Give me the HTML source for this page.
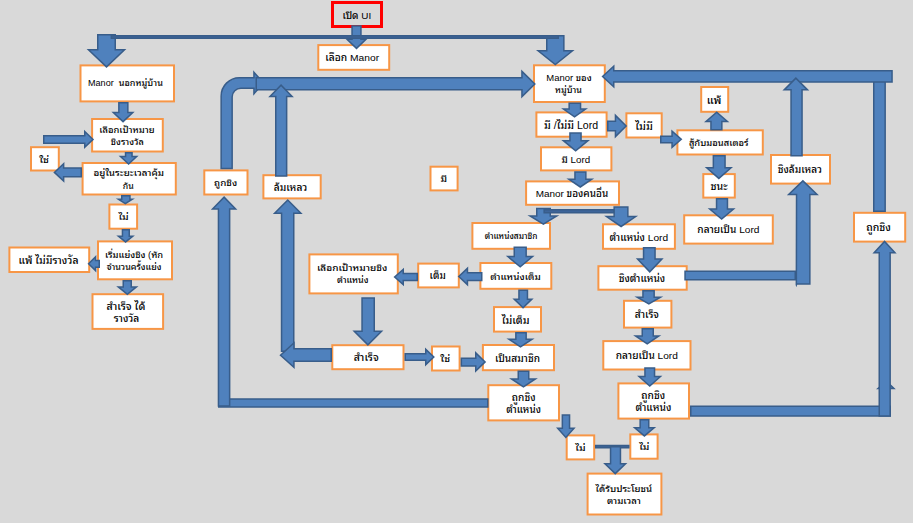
<!DOCTYPE html>
<html lang="th">
<head>
<meta charset="utf-8">
<title>Manor flow</title>
<style>
html,body{margin:0;padding:0;background:#d9d9d9;}
body{width:913px;height:523px;overflow:hidden;}
svg{display:block;}
text{font-family:"Liberation Sans", "Noto Sans Thai Looped", "Loma", "Noto Sans Thai", "Tahoma", sans-serif;fill:#000;font-weight:500;}
</style>
</head>
<body>
<svg width="913" height="523" viewBox="0 0 913 523">
<rect x="0" y="0" width="913" height="523" fill="#d9d9d9"/>
<rect x="332.5" y="2.5" width="49.0" height="24.0" fill="none" stroke="#ff0000" stroke-width="3"/>
<text transform="translate(356.80,18.91) scale(1.0450,1)" font-size="9.48" text-anchor="middle" xml:space="preserve">เปิด UI</text>
<rect x="318.3" y="45.1" width="70.9" height="24.7" fill="#ffffff" stroke="#f79646" stroke-width="2"/>
<text transform="translate(352.15,61.19) scale(1.0450,1)" font-size="9.82" text-anchor="middle" xml:space="preserve">เลือก Manor</text>
<rect x="80.5" y="65.4" width="93.5" height="36.0" fill="#ffffff" stroke="#f79646" stroke-width="2"/>
<text transform="translate(125.45,86.22) scale(1.0450,1)" font-size="8.67" text-anchor="middle" xml:space="preserve">Manor  นอกหมู่บ้าน</text>
<rect x="92.1" y="119.0" width="70.7" height="32.5" fill="#ffffff" stroke="#f79646" stroke-width="2"/>
<text transform="translate(126.95,132.80) scale(1.0587,1)" font-size="8.89" text-anchor="middle" xml:space="preserve">เลือกเป้าหมาย</text>
<text transform="translate(127.35,145.10) scale(1.0313,1)" font-size="8.89" text-anchor="middle" xml:space="preserve">ชิงรางวัล</text>
<rect x="31.0" y="147.2" width="27.8" height="23.3" fill="#ffffff" stroke="#f79646" stroke-width="2"/>
<text transform="translate(44.10,162.59) scale(1.1500,1)" font-size="9.0" text-anchor="middle" xml:space="preserve">ใช่</text>
<rect x="82.6" y="163.0" width="93.2" height="31.5" fill="#ffffff" stroke="#f79646" stroke-width="2"/>
<text transform="translate(128.70,176.29) scale(1.1038,1)" font-size="8.87" text-anchor="middle" xml:space="preserve">อยู่ในระยะเวลาคุ้ม</text>
<text transform="translate(128.20,188.59) scale(0.9862,1)" font-size="8.87" text-anchor="middle" xml:space="preserve">กัน</text>
<rect x="109.4" y="204.5" width="27.7" height="24.2" fill="#ffffff" stroke="#f79646" stroke-width="2"/>
<text transform="translate(123.55,220.34) scale(1.1500,1)" font-size="9.0" text-anchor="middle" xml:space="preserve">ไม่</text>
<rect x="98.0" y="241.4" width="74.0" height="37.9" fill="#ffffff" stroke="#f79646" stroke-width="2"/>
<text transform="translate(134.10,257.84) scale(1.0700,1)" font-size="8.73" text-anchor="middle" xml:space="preserve">เริ่มแย่งชิง (หัก</text>
<text transform="translate(134.00,270.14) scale(1.0200,1)" font-size="8.73" text-anchor="middle" xml:space="preserve">จำนวนครั้งแย่ง</text>
<rect x="9.4" y="247.5" width="79.8" height="24.5" fill="#ffffff" stroke="#f79646" stroke-width="2"/>
<text transform="translate(48.50,263.84) scale(1.0450,1)" font-size="9.98" text-anchor="middle" xml:space="preserve">แพ้ ไม่มีรางวัล</text>
<rect x="92.5" y="294.2" width="70.6" height="34.7" fill="#ffffff" stroke="#f79646" stroke-width="2"/>
<text transform="translate(125.90,309.50) scale(1.0662,1)" font-size="10.01" text-anchor="middle" xml:space="preserve">สำเร็จ ได้</text>
<text transform="translate(126.50,321.80) scale(1.0238,1)" font-size="10.01" text-anchor="middle" xml:space="preserve">รางวัล</text>
<rect x="204.3" y="170.4" width="43.2" height="24.1" fill="#ffffff" stroke="#f79646" stroke-width="2"/>
<text transform="translate(225.60,186.35) scale(1.0450,1)" font-size="9.44" text-anchor="middle" xml:space="preserve">ถูกชิง</text>
<rect x="263.4" y="175.2" width="57.3" height="23.2" fill="#ffffff" stroke="#f79646" stroke-width="2"/>
<text transform="translate(290.45,190.83) scale(1.0450,1)" font-size="9.8" text-anchor="middle" xml:space="preserve">ล้มเหลว</text>
<rect x="309.4" y="254.4" width="88.4" height="39.0" fill="#ffffff" stroke="#f79646" stroke-width="2"/>
<text transform="translate(352.10,270.84) scale(1.0990,1)" font-size="9.15" text-anchor="middle" xml:space="preserve">เลือกเป้าหมายชิง</text>
<text transform="translate(352.80,283.14) scale(0.9910,1)" font-size="9.15" text-anchor="middle" xml:space="preserve">ตำแหน่ง</text>
<rect x="332.3" y="345.2" width="71.2" height="24.0" fill="#ffffff" stroke="#f79646" stroke-width="2"/>
<text transform="translate(366.20,361.35) scale(1.0450,1)" font-size="10.13" text-anchor="middle" xml:space="preserve">สำเร็จ</text>
<rect x="430.5" y="166.7" width="27.1" height="23.7" fill="#ffffff" stroke="#f79646" stroke-width="2"/>
<text transform="translate(443.75,182.29) scale(1.1500,1)" font-size="9.0" text-anchor="middle" xml:space="preserve">มี</text>
<rect x="418.2" y="263.6" width="40.6" height="23.8" fill="#ffffff" stroke="#f79646" stroke-width="2"/>
<text transform="translate(437.70,279.42) scale(1.0450,1)" font-size="9.5" text-anchor="middle" xml:space="preserve">เต็ม</text>
<rect x="432.0" y="346.5" width="27.6" height="24.0" fill="#ffffff" stroke="#f79646" stroke-width="2"/>
<text transform="translate(445.20,362.24) scale(1.1500,1)" font-size="9.0" text-anchor="middle" xml:space="preserve">ใช่</text>
<rect x="534.0" y="65.3" width="70.8" height="36.7" fill="#ffffff" stroke="#f79646" stroke-width="2"/>
<text transform="translate(569.00,80.86) scale(1.0762,1)" font-size="8.78" text-anchor="middle" xml:space="preserve">Manor ของ</text>
<text transform="translate(568.50,93.16) scale(1.0138,1)" font-size="8.78" text-anchor="middle" xml:space="preserve">หมู่บ้าน</text>
<rect x="536.4" y="112.4" width="70.2" height="24.3" fill="#ffffff" stroke="#f79646" stroke-width="2"/>
<text transform="translate(571.10,128.69) scale(1.0450,1)" font-size="10.12" text-anchor="middle" xml:space="preserve">มี /ไม่มี Lord</text>
<rect x="541.0" y="147.3" width="70.4" height="23.1" fill="#ffffff" stroke="#f79646" stroke-width="2"/>
<text transform="translate(575.80,162.72) scale(1.0450,1)" font-size="9.36" text-anchor="middle" xml:space="preserve">มี Lord</text>
<rect x="526.1" y="181.4" width="92.9" height="23.4" fill="#ffffff" stroke="#f79646" stroke-width="2"/>
<text transform="translate(571.95,197.02) scale(1.0450,1)" font-size="9.51" text-anchor="middle" xml:space="preserve">Manor ของคนอื่น</text>
<rect x="472.4" y="223.0" width="77.6" height="25.8" fill="#ffffff" stroke="#f79646" stroke-width="2"/>
<text transform="translate(511.10,239.27) scale(1.0450,1)" font-size="7.96" text-anchor="middle" xml:space="preserve">ตำแหน่งสมาชิก</text>
<rect x="480.4" y="263.0" width="70.9" height="25.8" fill="#ffffff" stroke="#f79646" stroke-width="2"/>
<text transform="translate(515.45,279.79) scale(1.0450,1)" font-size="9.43" text-anchor="middle" xml:space="preserve">ตำแหน่งเต็ม</text>
<rect x="494.0" y="307.1" width="47.0" height="24.5" fill="#ffffff" stroke="#f79646" stroke-width="2"/>
<text transform="translate(515.60,323.50) scale(1.0450,1)" font-size="10.13" text-anchor="middle" xml:space="preserve">ไม่เต็ม</text>
<rect x="482.9" y="345.0" width="71.1" height="25.2" fill="#ffffff" stroke="#f79646" stroke-width="2"/>
<text transform="translate(517.45,361.59) scale(1.0450,1)" font-size="9.69" text-anchor="middle" xml:space="preserve">เป็นสมาชิก</text>
<rect x="488.3" y="385.2" width="70.7" height="35.2" fill="#ffffff" stroke="#f79646" stroke-width="2"/>
<text transform="translate(523.65,400.60) scale(1.0571,1)" font-size="9.59" text-anchor="middle" xml:space="preserve">ถูกชิง</text>
<text transform="translate(523.65,412.90) scale(1.0329,1)" font-size="9.59" text-anchor="middle" xml:space="preserve">ตำแหน่ง</text>
<rect x="566.7" y="435.4" width="27.5" height="24.0" fill="#ffffff" stroke="#f79646" stroke-width="2"/>
<text transform="translate(580.45,451.14) scale(1.1500,1)" font-size="9.0" text-anchor="middle" xml:space="preserve">ไม่</text>
<rect x="630.3" y="434.4" width="27.3" height="24.3" fill="#ffffff" stroke="#f79646" stroke-width="2"/>
<text transform="translate(644.35,450.29) scale(1.1500,1)" font-size="9.0" text-anchor="middle" xml:space="preserve">ไม่</text>
<rect x="587.6" y="473.6" width="73.8" height="40.9" fill="#ffffff" stroke="#f79646" stroke-width="2"/>
<text transform="translate(623.80,491.72) scale(1.0428,1)" font-size="9.23" text-anchor="middle" xml:space="preserve">ได้รับประโยชน์</text>
<text transform="translate(623.90,504.02) scale(1.0472,1)" font-size="9.23" text-anchor="middle" xml:space="preserve">ตามเวลา</text>
<rect x="603.0" y="224.3" width="71.9" height="24.5" fill="#ffffff" stroke="#f79646" stroke-width="2"/>
<text transform="translate(638.75,240.55) scale(1.0450,1)" font-size="9.71" text-anchor="middle" xml:space="preserve">ตำแหน่ง Lord</text>
<rect x="598.4" y="266.2" width="88.3" height="23.5" fill="#ffffff" stroke="#f79646" stroke-width="2"/>
<text transform="translate(641.95,281.94) scale(1.0450,1)" font-size="9.7" text-anchor="middle" xml:space="preserve">ชิงตำแหน่ง</text>
<rect x="624.0" y="300.8" width="47.4" height="26.8" fill="#ffffff" stroke="#f79646" stroke-width="2"/>
<text transform="translate(646.80,318.22) scale(1.0450,1)" font-size="9.79" text-anchor="middle" xml:space="preserve">สำเร็จ</text>
<rect x="603.3" y="341.1" width="87.2" height="28.4" fill="#ffffff" stroke="#f79646" stroke-width="2"/>
<text transform="translate(646.80,359.29) scale(1.0450,1)" font-size="9.7" text-anchor="middle" xml:space="preserve">กลายเป็น Lord</text>
<rect x="618.4" y="383.4" width="70.6" height="35.2" fill="#ffffff" stroke="#f79646" stroke-width="2"/>
<text transform="translate(653.20,398.88) scale(1.0433,1)" font-size="9.8" text-anchor="middle" xml:space="preserve">ถูกชิง</text>
<text transform="translate(653.50,411.18) scale(1.0467,1)" font-size="9.8" text-anchor="middle" xml:space="preserve">ตำแหน่ง</text>
<rect x="626.4" y="113.3" width="35.3" height="24.2" fill="#ffffff" stroke="#f79646" stroke-width="2"/>
<text transform="translate(644.05,129.62) scale(1.0450,1)" font-size="10.32" text-anchor="middle" xml:space="preserve">ไม่มี</text>
<rect x="677.4" y="130.3" width="85.4" height="24.2" fill="#ffffff" stroke="#f79646" stroke-width="2"/>
<text transform="translate(718.70,146.12) scale(1.0450,1)" font-size="8.95" text-anchor="middle" xml:space="preserve">สู้กับมอนสเตอร์</text>
<rect x="701.2" y="87.0" width="27.0" height="24.8" fill="#ffffff" stroke="#f79646" stroke-width="2"/>
<text transform="translate(714.00,103.70) scale(1.0450,1)" font-size="10.56" text-anchor="middle" xml:space="preserve">แพ้</text>
<rect x="703.3" y="174.1" width="31.5" height="23.5" fill="#ffffff" stroke="#f79646" stroke-width="2"/>
<text transform="translate(719.15,190.01) scale(1.0450,1)" font-size="10.18" text-anchor="middle" xml:space="preserve">ชนะ</text>
<rect x="684.2" y="215.3" width="88.6" height="28.3" fill="#ffffff" stroke="#f79646" stroke-width="2"/>
<text transform="translate(728.40,233.44) scale(1.0450,1)" font-size="9.7" text-anchor="middle" xml:space="preserve">กลายเป็น Lord</text>
<rect x="771.0" y="155.0" width="59.0" height="28.6" fill="#ffffff" stroke="#f79646" stroke-width="2"/>
<text transform="translate(799.90,173.29) scale(1.0450,1)" font-size="9.69" text-anchor="middle" xml:space="preserve">ชิงล้มเหลว</text>
<rect x="854.0" y="212.8" width="51.2" height="28.8" fill="#ffffff" stroke="#f79646" stroke-width="2"/>
<text transform="translate(878.50,231.35) scale(1.0450,1)" font-size="10.14" text-anchor="middle" xml:space="preserve">ถูกชิง</text>
<polygon points="97.75,34.75 97.75,49.75 88.48,49.75 106.50,66.87 124.52,49.75 115.25,49.75 115.25,34.75" fill="#4f81bd" stroke="#385d8a" stroke-width="1.5" stroke-linejoin="miter" stroke-miterlimit="20"/>
<polygon points="546.75,35.75 546.75,50.75 538.13,50.75 555.30,64.54 572.47,50.75 563.85,50.75 563.85,35.75" fill="#4f81bd" stroke="#385d8a" stroke-width="1.5" stroke-linejoin="miter" stroke-miterlimit="20"/>
<path d="M221.15,168.5 L221.15,96 A18.25,18.25 0 0 1 239.4,77.75 L253.95,77.75 L253.95,72.3 L263.6,83 L253.95,93.8 L253.95,88.25 L241,88.25 A8.75,8.75 0 0 0 232.15,97 L232.15,168.5 Z" fill="#4f81bd" stroke="#385d8a" stroke-width="1.5"/>
<polygon points="256.25,77.85 256.25,89.75 521.95,89.75 521.95,96.62 534.83,84.00 521.95,71.38 521.95,77.85" fill="#4f81bd" stroke="#385d8a" stroke-width="1.5" stroke-linejoin="miter" stroke-miterlimit="20"/>
<polygon points="275.75,175.95 286.65,175.95 286.65,96.55 292.12,96.55 281.05,85.18 269.98,96.55 275.75,96.55" fill="#4f81bd" stroke="#385d8a" stroke-width="1.5" stroke-linejoin="miter" stroke-miterlimit="20"/>
<polygon points="873.75,80.75 873.75,211.25 885.15,211.25 885.15,80.75" fill="#4f81bd" stroke="#385d8a" stroke-width="1.5" stroke-linejoin="miter" stroke-miterlimit="20"/>
<polygon points="892.05,70.85 613.75,70.85 613.75,66.12 602.60,76.50 613.75,86.88 613.75,82.05 892.05,82.05" fill="#4f81bd" stroke="#385d8a" stroke-width="1.5" stroke-linejoin="miter" stroke-miterlimit="20"/>
<polygon points="791.05,155.65 802.05,155.65 802.05,89.85 807.49,89.85 795.85,78.16 784.21,89.85 791.05,89.85" fill="#4f81bd" stroke="#385d8a" stroke-width="1.5" stroke-linejoin="miter" stroke-miterlimit="20"/>
<polygon points="218.75,398.95 218.75,407.05 487.75,407.05 487.75,398.95" fill="#4f81bd" stroke="#385d8a" stroke-width="1.5" stroke-linejoin="miter" stroke-miterlimit="20"/>
<polygon points="218.45,406.05 229.65,406.05 229.65,208.95 235.62,208.95 224.10,197.17 212.58,208.95 218.45,208.95" fill="#4f81bd" stroke="#385d8a" stroke-width="1.5" stroke-linejoin="miter" stroke-miterlimit="20"/>
<polygon points="281.55,351.25 293.75,351.25 293.75,213.25 300.90,213.25 287.75,199.97 274.60,213.25 281.55,213.25" fill="#4f81bd" stroke="#385d8a" stroke-width="1.5" stroke-linejoin="miter" stroke-miterlimit="20"/>
<polygon points="331.25,348.75 293.95,348.75 293.95,342.99 280.52,355.20 293.95,367.41 293.95,361.25 331.25,361.25" fill="#4f81bd" stroke="#385d8a" stroke-width="1.5" stroke-linejoin="miter" stroke-miterlimit="20"/>
<polygon points="362.05,297.95 362.05,331.25 354.22,331.25 367.90,344.84 381.58,331.25 374.25,331.25 374.25,297.95" fill="#4f81bd" stroke="#385d8a" stroke-width="1.5" stroke-linejoin="miter" stroke-miterlimit="20"/>
<polygon points="405.25,353.75 405.25,360.25 425.75,360.25 425.75,364.65 433.81,357.00 425.75,349.35 425.75,353.75" fill="#4f81bd" stroke="#385d8a" stroke-width="1.5" stroke-linejoin="miter" stroke-miterlimit="20"/>
<polygon points="461.35,358.15 461.35,366.05 475.75,366.05 475.75,370.93 485.12,361.90 475.75,352.87 475.75,358.15" fill="#4f81bd" stroke="#385d8a" stroke-width="1.5" stroke-linejoin="miter" stroke-miterlimit="20"/>
<polygon points="417.25,273.45 403.25,273.45 403.25,269.46 394.63,277.05 403.25,284.64 403.25,280.55 417.25,280.55" fill="#4f81bd" stroke="#385d8a" stroke-width="1.5" stroke-linejoin="miter" stroke-miterlimit="20"/>
<polygon points="481.75,272.75 467.45,272.75 467.45,268.34 458.79,276.50 467.45,284.66 467.45,280.55 481.75,280.55" fill="#4f81bd" stroke="#385d8a" stroke-width="1.5" stroke-linejoin="miter" stroke-miterlimit="20"/>
<polygon points="118.85,102.75 118.85,112.55 113.30,112.55 123.05,121.67 132.80,112.55 127.85,112.55 127.85,102.75" fill="#4f81bd" stroke="#385d8a" stroke-width="1.5" stroke-linejoin="miter" stroke-miterlimit="20"/>
<polygon points="43.75,135.75 43.75,143.15 84.75,143.15 84.75,147.25 93.01,139.40 84.75,131.55 84.75,135.75" fill="#4f81bd" stroke="#385d8a" stroke-width="1.5" stroke-linejoin="miter" stroke-miterlimit="20"/>
<polygon points="125.55,152.75 125.55,156.55 120.51,156.55 128.60,164.08 136.69,156.55 132.05,156.55 132.05,152.75" fill="#4f81bd" stroke="#385d8a" stroke-width="1.5" stroke-linejoin="miter" stroke-miterlimit="20"/>
<polygon points="81.25,168.05 63.65,168.05 63.65,163.82 54.40,172.40 63.65,180.98 63.65,176.85 81.25,176.85" fill="#4f81bd" stroke="#385d8a" stroke-width="1.5" stroke-linejoin="miter" stroke-miterlimit="20"/>
<polygon points="121.75,195.75 121.75,199.25 118.40,199.25 125.35,203.61 132.30,199.25 129.95,199.25 129.95,195.75" fill="#4f81bd" stroke="#385d8a" stroke-width="1.5" stroke-linejoin="miter" stroke-miterlimit="20"/>
<polygon points="122.45,229.75 122.45,236.25 118.45,236.25 125.60,241.94 132.75,236.25 129.25,236.25 129.25,229.75" fill="#4f81bd" stroke="#385d8a" stroke-width="1.5" stroke-linejoin="miter" stroke-miterlimit="20"/>
<polygon points="99.25,260.55 95.55,260.55 95.55,256.89 88.57,263.75 95.55,270.61 95.55,267.35 99.25,267.35" fill="#4f81bd" stroke="#385d8a" stroke-width="1.5" stroke-linejoin="miter" stroke-miterlimit="20"/>
<polygon points="123.25,280.75 123.25,286.95 118.32,286.95 127.35,294.24 136.38,286.95 131.25,286.95 131.25,280.75" fill="#4f81bd" stroke="#385d8a" stroke-width="1.5" stroke-linejoin="miter" stroke-miterlimit="20"/>
<polygon points="352.05,25.95 352.05,39.25 346.97,39.25 356.50,48.36 366.03,39.25 360.95,39.25 360.95,25.95" fill="#4f81bd" stroke="#385d8a" stroke-width="1.5" stroke-linejoin="miter" stroke-miterlimit="20"/>
<polygon points="111.35,35.75 111.35,38.15 558.25,38.15 558.25,35.75" fill="#3d6499" stroke="#385d8a" stroke-width="1.5" stroke-linejoin="miter" stroke-miterlimit="20"/>
<polygon points="569.15,103.25 569.15,109.05 563.48,109.05 574.55,116.78 585.62,109.05 580.55,109.05 580.55,103.25" fill="#4f81bd" stroke="#385d8a" stroke-width="1.5" stroke-linejoin="miter" stroke-miterlimit="20"/>
<polygon points="607.75,121.25 607.75,130.75 615.45,130.75 615.45,136.60 626.14,126.00 615.45,115.40 615.45,121.25" fill="#4f81bd" stroke="#385d8a" stroke-width="1.5" stroke-linejoin="miter" stroke-miterlimit="20"/>
<polygon points="660.75,136.25 660.75,142.75 672.05,142.75 672.05,147.35 681.26,139.30 672.05,131.25 672.05,136.25" fill="#4f81bd" stroke="#385d8a" stroke-width="1.5" stroke-linejoin="miter" stroke-miterlimit="20"/>
<polygon points="569.95,132.95 569.95,140.65 563.39,140.65 575.65,150.73 587.91,140.65 581.05,140.65 581.05,132.95" fill="#4f81bd" stroke="#385d8a" stroke-width="1.5" stroke-linejoin="miter" stroke-miterlimit="20"/>
<polygon points="574.95,172.05 574.95,179.15 568.83,179.15 580.30,186.99 591.77,179.15 585.85,179.15 585.85,172.05" fill="#4f81bd" stroke="#385d8a" stroke-width="1.5" stroke-linejoin="miter" stroke-miterlimit="20"/>
<polygon points="536.75,208.55 536.75,215.95 530.08,215.95 543.40,224.02 556.72,215.95 550.25,215.95 550.25,208.55" fill="#4f81bd" stroke="#385d8a" stroke-width="1.5" stroke-linejoin="miter" stroke-miterlimit="20"/>
<polygon points="544.15,209.85 544.15,212.65 613.75,212.65 613.75,209.85" fill="#3d6499" stroke="#385d8a" stroke-width="1.5" stroke-linejoin="miter" stroke-miterlimit="20"/>
<polygon points="614.15,206.95 614.15,216.55 606.53,216.55 621.10,226.49 635.67,216.55 627.85,216.55 627.85,206.95" fill="#4f81bd" stroke="#385d8a" stroke-width="1.5" stroke-linejoin="miter" stroke-miterlimit="20"/>
<polygon points="514.25,247.15 514.25,256.55 507.87,256.55 520.20,266.82 532.53,256.55 526.15,256.55 526.15,247.15" fill="#4f81bd" stroke="#385d8a" stroke-width="1.5" stroke-linejoin="miter" stroke-miterlimit="20"/>
<polygon points="518.95,290.25 518.95,299.15 514.24,299.15 523.05,307.75 531.86,299.15 527.45,299.15 527.45,290.25" fill="#4f81bd" stroke="#385d8a" stroke-width="1.5" stroke-linejoin="miter" stroke-miterlimit="20"/>
<polygon points="515.85,332.75 515.85,339.25 508.92,339.25 520.50,346.80 532.08,339.25 526.15,339.25 526.15,332.75" fill="#4f81bd" stroke="#385d8a" stroke-width="1.5" stroke-linejoin="miter" stroke-miterlimit="20"/>
<polygon points="518.25,371.25 518.25,378.95 511.51,378.95 523.45,386.80 535.39,378.95 528.75,378.95 528.75,371.25" fill="#4f81bd" stroke="#385d8a" stroke-width="1.5" stroke-linejoin="miter" stroke-miterlimit="20"/>
<polygon points="562.35,415.05 562.35,428.35 557.68,428.35 565.85,437.48 574.02,428.35 569.55,428.35 569.55,415.05" fill="#4f81bd" stroke="#385d8a" stroke-width="1.5" stroke-linejoin="miter" stroke-miterlimit="20"/>
<polygon points="640.15,419.75 640.15,427.75 634.66,427.75 644.40,435.92 654.14,427.75 648.75,427.75 648.75,419.75" fill="#4f81bd" stroke="#385d8a" stroke-width="1.5" stroke-linejoin="miter" stroke-miterlimit="20"/>
<polygon points="595.75,445.55 595.75,447.85 628.75,447.85 628.75,445.55" fill="#3d6499" stroke="#385d8a" stroke-width="1.5" stroke-linejoin="miter" stroke-miterlimit="20"/>
<polygon points="610.55,446.75 610.55,463.75 604.96,463.75 615.25,473.66 625.54,463.75 620.45,463.75 620.45,446.75" fill="#4f81bd" stroke="#385d8a" stroke-width="1.5" stroke-linejoin="miter" stroke-miterlimit="20"/>
<polygon points="643.55,247.85 643.55,259.05 637.55,259.05 649.75,271.81 661.95,259.05 655.05,259.05 655.05,247.85" fill="#4f81bd" stroke="#385d8a" stroke-width="1.5" stroke-linejoin="miter" stroke-miterlimit="20"/>
<polygon points="642.95,290.75 642.95,297.15 637.18,297.15 648.85,303.93 660.52,297.15 654.15,297.15 654.15,290.75" fill="#4f81bd" stroke="#385d8a" stroke-width="1.5" stroke-linejoin="miter" stroke-miterlimit="20"/>
<polygon points="642.25,328.75 642.25,335.95 635.56,335.95 647.20,343.80 658.84,335.95 653.25,335.95 653.25,328.75" fill="#4f81bd" stroke="#385d8a" stroke-width="1.5" stroke-linejoin="miter" stroke-miterlimit="20"/>
<polygon points="644.95,368.05 644.95,376.45 639.05,376.45 649.75,386.09 660.45,376.45 654.55,376.45 654.55,368.05" fill="#4f81bd" stroke="#385d8a" stroke-width="1.5" stroke-linejoin="miter" stroke-miterlimit="20"/>
<polygon points="710.95,129.65 721.85,129.65 721.85,121.45 727.37,121.45 716.70,112.29 706.03,121.45 710.95,121.45" fill="#4f81bd" stroke="#385d8a" stroke-width="1.5" stroke-linejoin="miter" stroke-miterlimit="20"/>
<polygon points="713.35,155.75 713.35,167.75 706.69,167.75 718.85,178.40 731.01,167.75 725.05,167.75 725.05,155.75" fill="#4f81bd" stroke="#385d8a" stroke-width="1.5" stroke-linejoin="miter" stroke-miterlimit="20"/>
<polygon points="716.55,198.75 716.55,208.95 709.73,208.95 721.65,219.11 733.57,208.95 727.45,208.95 727.45,198.75" fill="#4f81bd" stroke="#385d8a" stroke-width="1.5" stroke-linejoin="miter" stroke-miterlimit="20"/>
<polygon points="685.05,271.35 685.05,279.85 795.25,279.85 795.25,271.35" fill="#4f81bd" stroke="#385d8a" stroke-width="1.5" stroke-linejoin="miter" stroke-miterlimit="20"/>
<polygon points="796.55,194.45 796.35,284.60 796.39,284.75 796.67,283.95 809.85,283.95 809.85,194.45 817.04,194.45 802.90,180.84 788.67,194.45" fill="#4f81bd" stroke="#385d8a" stroke-width="1.5" stroke-linejoin="miter" stroke-miterlimit="20"/>
<polygon points="690.75,406.35 690.75,416.05 890.25,416.05 890.25,406.35" fill="#4f81bd" stroke="#385d8a" stroke-width="1.5" stroke-linejoin="miter" stroke-miterlimit="20"/>
<polygon points="878.03,388.55 893.95,388.55 886.47,381.31" fill="#4f81bd" stroke="#385d8a" stroke-width="1.5" stroke-linejoin="miter" stroke-miterlimit="20"/>
<polygon points="879.25,416.05 890.15,416.05 890.15,252.75 894.99,252.75 884.55,241.41 874.11,252.75 879.25,252.75" fill="#4f81bd" stroke="#385d8a" stroke-width="1.5" stroke-linejoin="miter" stroke-miterlimit="20"/>
</svg>
</body>
</html>
